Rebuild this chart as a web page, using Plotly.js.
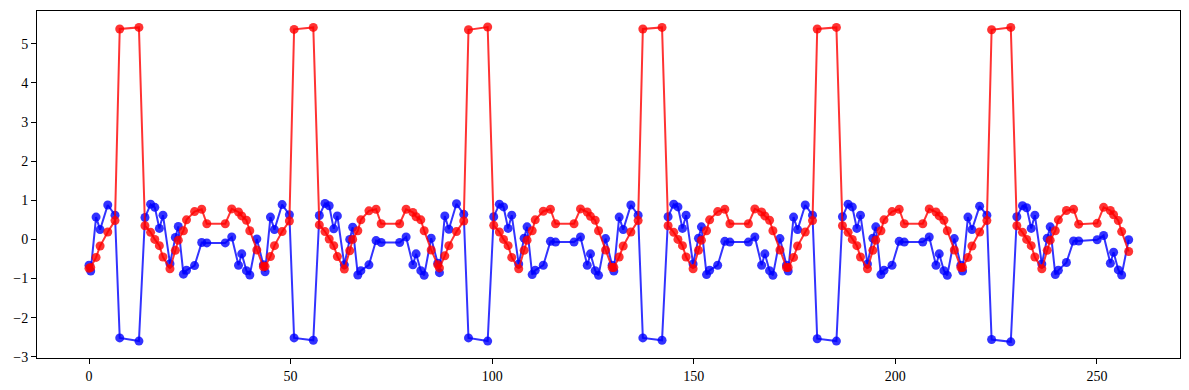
<!DOCTYPE html>
<html>
<head>
<meta charset="utf-8">
<script src="https://cdn.plot.ly/plotly-3.0.1.min.js"></script>
<style>
  html, body { margin: 0; padding: 0; background: #ffffff; }
  #chart { width: 1189px; height: 390px; }
</style>
</head>
<body>
<div id="chart"></div>
<script>
// Sample positions (x)
const xValues = [
  0, 0.42, 1.75, 2.75, 4.65, 6.45, 7.62, 12.38, 13.88, 15.28, 16.32, 17.45, 18.35, 20.08, 21.42, 22.15, 23.42, 24.18, 26.18, 27.95, 29.22, 33.8, 35.4, 37.08, 37.88, 39.05, 39.88, 41.62,
  43.25, 43.67, 45.0, 46.0, 47.9, 49.7, 50.87, 55.63, 57.13, 58.53, 59.57, 60.7, 61.6, 63.33, 64.67, 65.4, 66.67, 67.43, 69.43, 71.2, 72.47, 77.05, 78.65, 80.33, 81.13, 82.3, 83.13, 84.87,
  86.5, 86.92, 88.25, 89.25, 91.15, 92.95, 94.12, 98.88, 100.38, 101.78, 102.82, 103.95, 104.85, 106.58, 107.92, 108.65, 109.92, 110.68, 112.68, 114.45, 115.72, 120.3, 121.9, 123.58, 124.38, 125.55, 126.38, 128.12,
  129.75, 130.17, 131.5, 132.5, 134.4, 136.2, 137.37, 142.13, 143.63, 145.03, 146.07, 147.2, 148.1, 149.83, 151.17, 151.9, 153.17, 153.93, 155.93, 157.7, 158.97, 163.55, 165.15, 166.83, 167.63, 168.8, 169.63, 171.37,
  173, 173.42, 174.75, 175.75, 177.65, 179.45, 180.62, 185.38, 186.88, 188.28, 189.32, 190.45, 191.35, 193.08, 194.42, 195.15, 196.42, 197.18, 199.18, 200.95, 202.22, 206.8, 208.4, 210.08, 210.88, 212.05, 212.88, 214.62,
  216.25, 216.67, 218.0, 219.0, 220.9, 222.7, 223.87, 228.63, 230.13, 231.53, 232.57, 233.7, 234.6, 236.33, 237.67, 238.4, 239.67, 240.43, 242.43, 244.2, 245.47, 250.05, 251.65, 253.33, 254.13, 255.3, 256.13, 257.87
];

// Red series values
const redValues = [
  -0.74, -0.72, -0.46, -0.17, 0.19, 0.48, 5.38, 5.42, 0.35, 0.18, 0.00, -0.16, -0.45, -0.75, -0.28, -0.02, 0.22, 0.50, 0.71, 0.77, 0.40, 0.40, 0.78, 0.70, 0.60, 0.49, 0.22, -0.27,
  -0.70, -0.69, -0.44, -0.16, 0.20, 0.47, 5.37, 5.42, 0.37, 0.20, 0.01, -0.16, -0.44, -0.76, -0.29, 0.00, 0.22, 0.50, 0.73, 0.77, 0.40, 0.40, 0.77, 0.69, 0.58, 0.50, 0.22, -0.27,
  -0.65, -0.73, -0.42, -0.16, 0.20, 0.47, 5.36, 5.43, 0.36, 0.19, 0.00, -0.16, -0.46, -0.75, -0.28, -0.02, 0.22, 0.50, 0.72, 0.77, 0.40, 0.40, 0.78, 0.70, 0.59, 0.49, 0.22, -0.27,
  -0.72, -0.72, -0.45, -0.17, 0.19, 0.48, 5.38, 5.42, 0.35, 0.18, 0.00, -0.16, -0.45, -0.75, -0.28, -0.02, 0.22, 0.50, 0.71, 0.77, 0.40, 0.40, 0.78, 0.70, 0.60, 0.49, 0.22, -0.27,
  -0.72, -0.72, -0.46, -0.17, 0.19, 0.48, 5.38, 5.42, 0.35, 0.18, 0.00, -0.16, -0.45, -0.75, -0.28, -0.02, 0.22, 0.50, 0.71, 0.77, 0.40, 0.40, 0.78, 0.70, 0.60, 0.49, 0.22, -0.27,
  -0.72, -0.72, -0.46, -0.17, 0.19, 0.48, 5.36, 5.42, 0.35, 0.18, 0.00, -0.16, -0.45, -0.75, -0.28, -0.02, 0.22, 0.50, 0.74, 0.77, 0.39, 0.41, 0.82, 0.74, 0.63, 0.48, 0.20, -0.31
];

// Blue series values
const blueValues = [
  -0.66, -0.81, 0.57, 0.25, 0.88, 0.62, -2.52, -2.60, 0.56, 0.90, 0.82, 0.28, 0.62, -0.62, 0.05, 0.33, -0.89, -0.79, -0.67, -0.08, -0.09, -0.09, 0.06, -0.66, -0.37, -0.80, -0.91, 0.01,
  -0.65, -0.83, 0.57, 0.25, 0.89, 0.63, -2.52, -2.58, 0.61, 0.92, 0.86, 0.27, 0.60, -0.65, 0.00, 0.31, -0.91, -0.80, -0.65, -0.03, -0.08, -0.08, 0.06, -0.65, -0.37, -0.80, -0.92, 0.03,
  -0.61, -0.85, 0.60, 0.26, 0.91, 0.64, -2.52, -2.60, 0.58, 0.90, 0.83, 0.28, 0.62, -0.63, 0.03, 0.32, -0.90, -0.79, -0.66, -0.05, -0.07, -0.07, 0.06, -0.66, -0.37, -0.80, -0.92, 0.02,
  -0.66, -0.81, 0.57, 0.25, 0.88, 0.62, -2.52, -2.58, 0.58, 0.90, 0.83, 0.28, 0.62, -0.63, 0.03, 0.32, -0.90, -0.79, -0.66, -0.05, -0.07, -0.07, 0.06, -0.66, -0.37, -0.80, -0.92, 0.02,
  -0.66, -0.81, 0.57, 0.25, 0.88, 0.62, -2.54, -2.60, 0.58, 0.90, 0.83, 0.28, 0.62, -0.63, 0.03, 0.32, -0.90, -0.79, -0.66, -0.05, -0.07, -0.07, 0.06, -0.66, -0.37, -0.80, -0.92, 0.02,
  -0.66, -0.81, 0.57, 0.25, 0.85, 0.62, -2.56, -2.62, 0.58, 0.86, 0.81, 0.28, 0.62, -0.63, 0.03, 0.32, -0.90, -0.79, -0.59, -0.04, -0.04, -0.01, 0.10, -0.61, -0.33, -0.78, -0.91, -0.01
];

const xTicks = [0, 50, 100, 150, 200, 250];
const yTicks = [-3, -2, -1, 0, 1, 2, 3, 4, 5];

const tickFont = { family: '"Liberation Serif", "DejaVu Serif", serif', size: 14, color: '#000000' };

const traces = [
  {
    x: xValues, y: blueValues, type: 'scatter', mode: 'lines+markers',
    line: { color: 'rgba(0,0,255,0.8)', width: 2 },
    marker: { color: 'rgba(0,0,255,0.8)', size: 9, line: { width: 0 } },
    hoverinfo: 'skip', showlegend: false
  },
  {
    x: xValues, y: redValues, type: 'scatter', mode: 'lines+markers',
    line: { color: 'rgba(255,0,0,0.8)', width: 2 },
    marker: { color: 'rgba(255,0,0,0.8)', size: 9, line: { width: 0 } },
    hoverinfo: 'skip', showlegend: false
  }
];

const layout = {
  width: 1189, height: 390,
  margin: { l: 37, r: 9, t: 11, b: 32, pad: 0 },
  paper_bgcolor: '#ffffff', plot_bgcolor: '#ffffff',
  showlegend: false,
  xaxis: {
    range: [-12.9, 270.6],
    tickmode: 'array', tickvals: xTicks, ticktext: xTicks.map(String),
    ticks: 'outside', ticklen: 5, tickwidth: 1, tickcolor: '#000',
    showline: true, linecolor: '#000', linewidth: 1, mirror: true,
    showgrid: false, zeroline: false, tickfont: tickFont
  },
  yaxis: {
    range: [-3.033, 5.84],
    tickmode: 'array', tickvals: yTicks, ticktext: yTicks.map(v => v < 0 ? '\u2212' + Math.abs(v) : String(v)),
    ticks: 'outside', ticklen: 5, tickwidth: 1, tickcolor: '#000',
    showline: true, linecolor: '#000', linewidth: 1, mirror: true,
    showgrid: false, zeroline: false, tickfont: tickFont
  }
};

Plotly.newPlot('chart', traces, layout, { staticPlot: true, displayModeBar: false });
</script>
</body>
</html>
